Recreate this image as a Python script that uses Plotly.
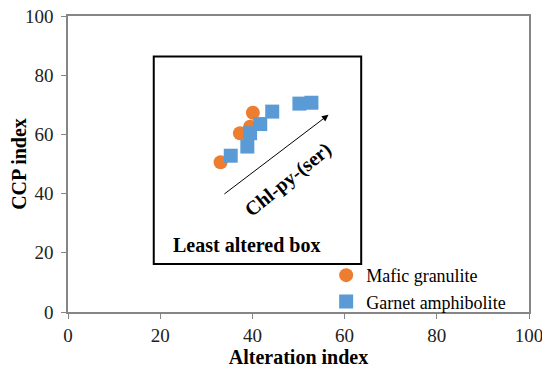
import plotly.graph_objects as go

# Data
mafic_x = [33.1, 37.3, 39.5, 40.1]
mafic_y = [50.6, 60.4, 62.6, 67.3]
garnet_x = [35.3, 38.9, 39.5, 41.7, 44.3, 50.2, 52.8]
garnet_y = [52.8, 55.9, 60.4, 63.5, 67.7, 70.4, 70.7]
tick_vals = [0, 20, 40, 60, 80, 100]
box_x = [18.6, 63.6]
box_y = [16.2, 86.3]
arrow_start = [33.6, 39.5]
arrow_end = [56.5, 66.6]

FONT = "Liberation Serif, Times New Roman, serif"

fig = go.Figure()
fig.add_trace(go.Scatter(x=mafic_x, y=mafic_y, mode="markers", name="Mafic granulite",
                         marker=dict(symbol="circle", size=14, color="#ED7D31")))
fig.add_trace(go.Scatter(x=garnet_x, y=garnet_y, mode="markers", name="Garnet amphibolite",
                         marker=dict(symbol="square", size=14, color="#5B9BD5")))

fig.add_shape(type="rect", xref="x", yref="y", x0=box_x[0], x1=box_x[1], y0=box_y[0], y1=box_y[1],
              line=dict(color="black", width=2), layer="below")

fig.add_annotation(x=arrow_end[0], y=arrow_end[1], ax=arrow_start[0], ay=arrow_start[1],
                   xref="x", yref="y", axref="x", ayref="y", text="", showarrow=True,
                   arrowhead=2, arrowsize=1.3, arrowwidth=1, arrowcolor="black")
fig.add_annotation(x=47.8, y=44.6, xref="x", yref="y", text="<b>Chl-py-(ser)</b>", showarrow=False,
                   textangle=-39, font=dict(family=FONT, size=20, color="black"))
fig.add_annotation(x=38.8, y=22.6, xref="x", yref="y", text="<b>Least altered box</b>", showarrow=False,
                   font=dict(family=FONT, size=20, color="black"))

axis_common = dict(range=[0, 100], tickvals=tick_vals, ticks="outside", ticklen=5, tickcolor="#868686",
                   showline=True, linecolor="#868686", linewidth=1.5, mirror=True, showgrid=False,
                   zeroline=False, automargin=False, ticklabeloverflow="allow",
                   tickfont=dict(family=FONT, size=19, color="#222222"))

# The page body has an 8px default margin, so the figure is sized to fit 550x372 after it.
fig.update_layout(
    width=542, height=364,
    margin=dict(l=60, r=21, t=8, b=60),
    plot_bgcolor="white", paper_bgcolor="white",
    xaxis=dict(**axis_common, title=dict(text="<b>Alteration index</b>", font=dict(family=FONT, size=20, color="black"), standoff=5)),
    yaxis=dict(**axis_common, ticklabelstandoff=4,
               title=dict(text="<b>CCP index</b>", font=dict(family=FONT, size=20, color="black"), standoff=6)),
    legend=dict(x=0.56, y=0.186, xanchor="left", yanchor="top", bgcolor="rgba(255,255,255,0)",
                font=dict(family=FONT, size=18, color="black"), itemwidth=30, tracegroupgap=0),
    showlegend=True,
)

fig.write_html("out.html")
